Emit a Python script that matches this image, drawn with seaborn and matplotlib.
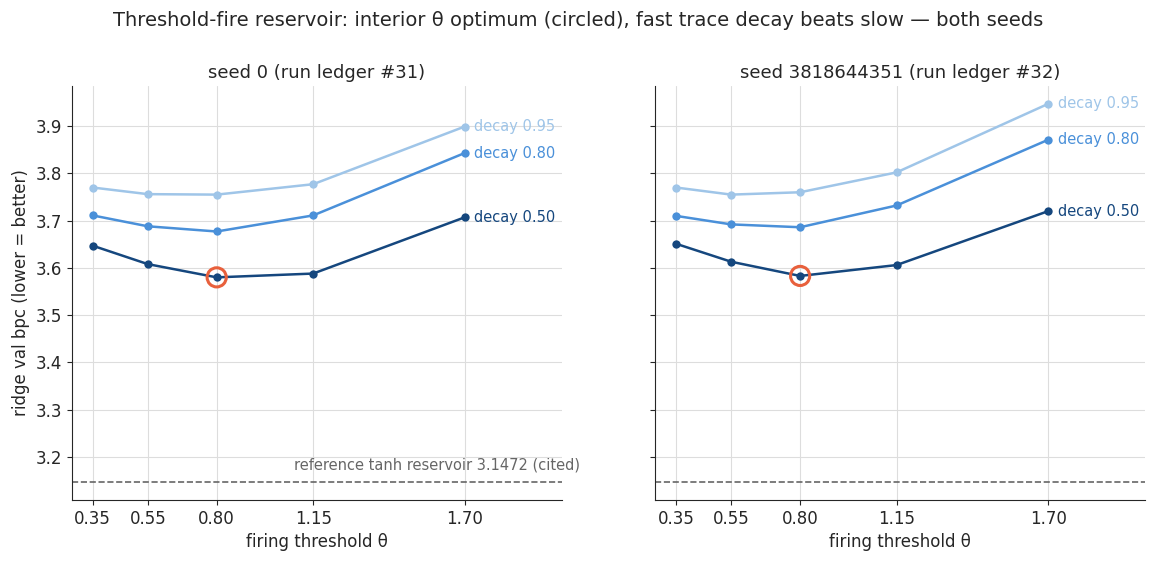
import matplotlib
matplotlib.use("Agg")
import matplotlib.pyplot as plt
import seaborn as sns
import pandas as pd

thresholds = [0.35, 0.55, 0.80, 1.15, 1.70]
tick_labels = ["0.35", "0.55", "0.80", "1.15", "1.70"]
decays = ["0.95", "0.80", "0.50"]
seed0 = {"0.95": [3.770, 3.756, 3.755, 3.777, 3.899],
         "0.80": [3.711, 3.688, 3.677, 3.711, 3.843],
         "0.50": [3.647, 3.608, 3.580, 3.588, 3.707]}
seed1 = {"0.95": [3.770, 3.755, 3.760, 3.802, 3.947],
         "0.80": [3.710, 3.692, 3.686, 3.732, 3.871],
         "0.50": [3.651, 3.613, 3.583, 3.606, 3.720]}
titles = ["seed 0 (run ledger #31)", "seed 3818644351 (run ledger #32)"]
best_theta = 0.80
ref_value = 3.1472
colors = {"0.95": "#9fc5e8", "0.80": "#4a90d9", "0.50": "#15477e"}

sns.set_style("ticks")
plt.rcParams['font.family'] = ['DejaVu Sans']
fig, axes = plt.subplots(1, 2, figsize=(11.57, 5.65), dpi=100, sharey=True)
for ax, data, title in zip(axes, [seed0, seed1], titles):
    rows = [(t, d, v) for d in decays for t, v in zip(thresholds, data[d])]
    df = pd.DataFrame(rows, columns=["theta", "decay", "bpc"])
    sns.lineplot(data=df, x="theta", y="bpc", hue="decay", palette=colors,
                 marker="o", markersize=6, markeredgewidth=0, linewidth=1.8,
                 legend=False, ax=ax)
    for d in decays:
        ax.text(thresholds[-1] + 0.035, data[d][-1], f"decay {d}", color=colors[d],
                va="center", ha="left", fontsize=10.5)
    i = thresholds.index(best_theta)
    ax.scatter([best_theta], [data["0.50"][i]], s=190, facecolors="none",
               edgecolors="#e8603c", linewidths=2.2, zorder=5)
    ax.axhline(ref_value, color="#666666", ls="--", lw=1.2)
    ax.set_xticks(thresholds)
    ax.set_xticklabels(tick_labels)
    ax.set_xlim(0.274, 2.053)
    ax.set_ylim(3.109, 3.985)
    ax.grid(True, color="#dddddd", lw=0.8)
    ax.set_axisbelow(True)
    ax.set_title(title, fontsize=13)
    ax.set_xlabel("firing threshold θ", fontsize=12)
    ax.tick_params(labelsize=12)
    sns.despine(ax=ax)
axes[0].set_ylabel("ridge val bpc (lower = better)", fontsize=12)
axes[1].set_ylabel("")
axes[0].text(2.12, ref_value + 0.02, "reference tanh reservoir 3.1472 (cited)",
             color="#666666", ha="right", va="bottom", fontsize=10.5)
fig.suptitle("Threshold-fire reservoir: interior θ optimum (circled), fast trace decay beats slow — both seeds",
             fontsize=14)
fig.subplots_adjust(left=0.062, right=0.99, top=0.848, bottom=0.115, wspace=0.19)
fig.savefig("out.png")
